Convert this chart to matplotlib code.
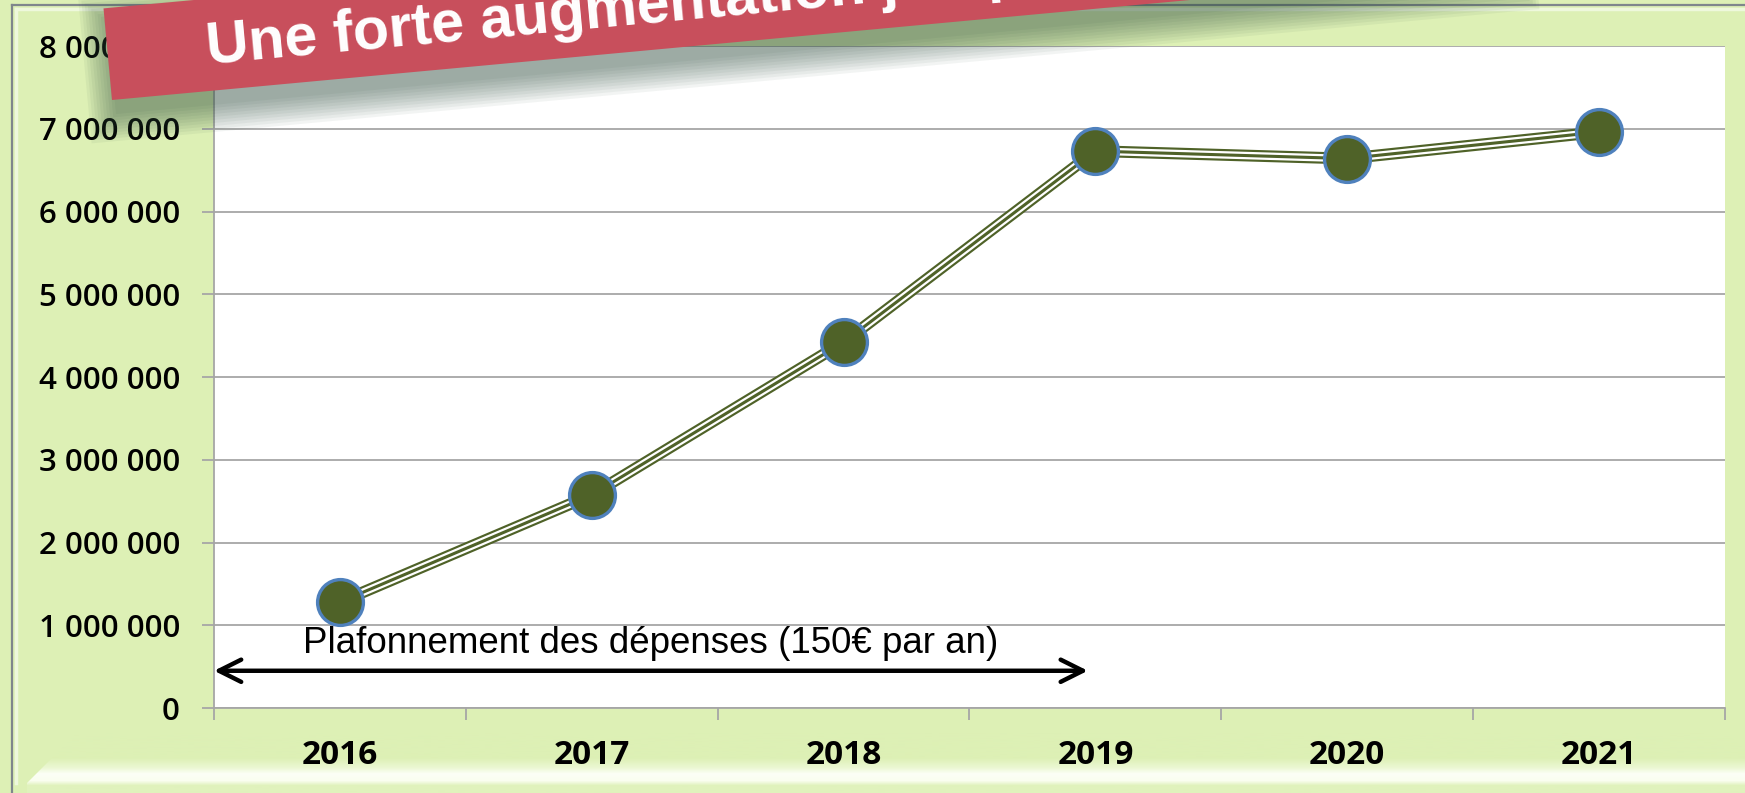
import matplotlib.pyplot as plt
import numpy as np
from matplotlib.patches import Polygon

# data
years = ['2016', '2017', '2018', '2019', '2020', '2021']
depenses = [1280000, 2575000, 4420000, 6730000, 6640000, 6960000]
y_ticks = [0, 1000000, 2000000, 3000000, 4000000, 5000000, 6000000, 7000000, 8000000]
y_labels = [f"{v:,}".replace(",", " ") for v in y_ticks]
title = "Une forte augmentation jusqu'en 2019"
note = "Plafonnement des dépenses (150€ par an)"

W, H = 1745, 793
green = '#4f6228'
grid_grey = '#a6a6a6'

fig = plt.figure(figsize=(W / 100, H / 100), dpi=100)
fig.patch.set_facecolor('#ddf0b5')

# background axes in pixel coords (y from top) for the bevelled frame
bg = fig.add_axes([0, 0, 1, 1], zorder=-10)
bg.set_xlim(0, W)
bg.set_ylim(H, 0)
bg.axis('off')
ys = np.arange(733, 794)
stops_y = [733, 758, 768, 774, 781, 786, 793]
stops_c = np.array([[221, 240, 181], [221, 240, 181], [236, 248, 212], [252, 255, 246],
                    [250, 254, 240], [224, 242, 188], [224, 242, 188]]) / 255
grad = np.stack([np.interp(ys, stops_y, stops_c[:, k]) for k in range(3)], axis=-1)[:, None, :]
im = bg.imshow(grad, extent=(12, W, 793, 733), aspect='auto', zorder=1)
clip = Polygon([(27, 783), (77, 733), (1725, 733), (1745, 750), (1745, 793), (27, 793)],
               transform=bg.transData, facecolor='none', edgecolor='none')
bg.add_patch(clip)
im.set_clip_path(clip)
bg.plot([12, 12], [5, H], color='#7f868c', lw=1.6, zorder=3)
bg.plot([12, W], [5, 5], color='#7f868c', lw=1.6, zorder=3)
bg.plot([16, 16], [9, 783], color='#eef8dc', lw=2.5, zorder=3)
bg.plot([16, W], [9, 9], color='#eef8dc', lw=2.5, zorder=3)

# main chart
ax = fig.add_axes([214 / W, 1 - 708 / H, 1511 / W, 662 / H])
ax.set_facecolor('white')
x = np.arange(len(years))
ax.plot(x, depenses, color=green, lw=8.5, solid_joinstyle='round', zorder=3)
ax.plot(x, depenses, color='white', lw=5.4, solid_joinstyle='round', zorder=3)
ax.plot(x, depenses, color=green, lw=2.2, solid_joinstyle='round', zorder=3)
ax.plot(x, depenses, ls='none', marker='o', ms=33, mfc=green, mec='#4f81bd', mew=2.4, zorder=4)

ax.set_xlim(-0.5, 5.5)
ax.set_ylim(0, 8000000)
ax.set_yticks(y_ticks)
ax.set_yticklabels(y_labels, fontfamily='Open Sans', fontweight='semibold', fontsize=22.5)
ax.yaxis.grid(True, color=grid_grey, lw=1.3)
ax.set_axisbelow(True)
for s in ['top', 'right']:
    ax.spines[s].set_visible(False)
for s in ['left', 'bottom']:
    ax.spines[s].set_color(grid_grey)
    ax.spines[s].set_linewidth(1.3)

ax.set_xticks(x)
ax.set_xticklabels(years, fontfamily='Open Sans', fontweight='bold', fontsize=24)
ax.set_xticks(np.arange(-0.5, len(years), 1), minor=True)
ax.tick_params(axis='x', which='major', length=0, pad=22)
ax.tick_params(axis='x', which='minor', length=8.5, width=1.3, color=grid_grey)
ax.tick_params(axis='y', length=8.5, width=1.3, color=grid_grey, pad=16)

# spending cap arrow + note
ax.annotate('', xy=(2.97, 450000), xytext=(-0.5, 450000),
            arrowprops=dict(arrowstyle='<->,head_length=0.8,head_width=0.4', lw=3.2,
                            color='black', shrinkA=0, shrinkB=0, mutation_scale=20))
ax.text(1.235, 660000, note, ha='center', va='baseline', fontsize=26.5,
        family='Liberation Sans', color='black', zorder=5)

# red title banner with soft shadow, on top of everything
ov = fig.add_axes([0, 0, 1, 1], zorder=5)
ov.set_xlim(0, W)
ov.set_ylim(H, 0)
ov.axis('off')
ov.patch.set_visible(False)

theta = np.deg2rad(5.3)
u = np.array([np.cos(theta), -np.sin(theta)])
v = np.array([-np.sin(theta), -np.cos(theta)])
bl = np.array([112.0, 100.0])
L, Hb = 1400.0, 92.0


def banner(m=0.0, shift=(0.0, 0.0)):
    o = bl - m * u - m * v + np.array(shift)
    return [o, o + (L + 2 * m) * u, o + (L + 2 * m) * u + (Hb + 2 * m) * v, o + (Hb + 2 * m) * v]


for m in np.arange(0, 28, 3):
    ov.add_patch(Polygon(banner(m, (4, 14)), closed=True, facecolor='#2f4f3f',
                         edgecolor='none', alpha=0.06))
ov.add_patch(Polygon(banner(), closed=True, facecolor='#c84f5c', edgecolor='none'))
ov.text(208, 64, title, rotation=5.3, rotation_mode='anchor', ha='left', va='baseline',
        color='white', fontsize=42.5, fontweight='bold', family='Liberation Sans')

plt.savefig('out.png', dpi=100, facecolor=fig.get_facecolor())
